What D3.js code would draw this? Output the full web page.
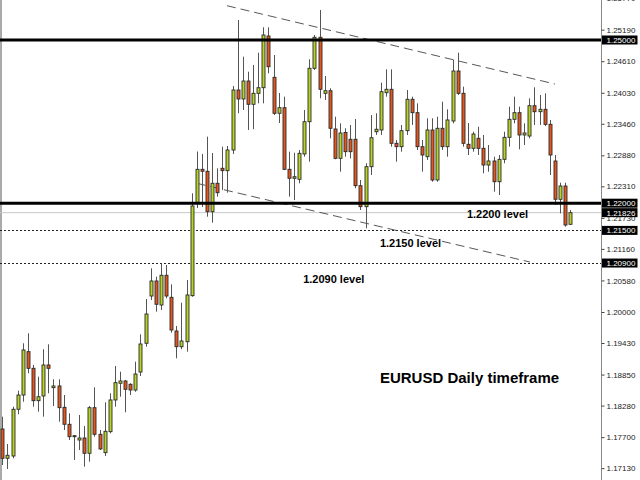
<!DOCTYPE html>
<html><head><meta charset="utf-8">
<script src="https://cdn.jsdelivr.net/npm/d3@7"></script>
<style>body{margin:0;background:#fff}svg{display:block}</style>
</head><body><svg id="c" width="640" height="480"></svg>
<script>
const opens=[1.17849,1.17311,1.17353,1.18212,1.18474,1.19271,1.18965,1.18370,1.18456,1.19026,
1.18609,1.18640,1.18248,1.17936,1.17708,1.17647,1.17684,1.17403,1.18241,1.17752,
1.17414,1.17800,1.18383,1.18690,1.18732,1.18671,1.18566,1.18897,1.19425,1.20294,
1.20570,1.20129,1.20675,1.20270,1.19651,1.19362,1.19454,1.20300,1.22013,1.22623,
1.22587,1.21844,1.22366,1.22642,1.22598,1.22978,1.24081,1.23916,1.24246,1.23818,
1.24020,1.24123,1.25074,1.24314,1.23653,1.23756,1.22623,1.22458,1.22439,1.22905,
1.23498,1.24480,1.25050,1.24020,1.24068,1.23364,1.22825,1.23300,1.23175,1.23175,
1.22322,1.21936,1.22671,1.23314,1.23346,1.24031,1.24094,1.23101,1.23039,1.23333,
1.23910,1.23664,1.23039,1.22855,1.23346,1.22427,1.23377,1.23039,1.23511,1.24430,
1.24020,1.23083,1.23009,1.23193,1.23009,1.22702,1.22776,1.22395,1.22807,1.23211,
1.23542,1.23664,1.23254,1.23235,1.23792,1.23682,1.23726,1.23450,1.22776,1.22072,
1.22316,1.21612];
const highs=[1.18076,1.17574,1.18259,1.18553,1.19425,1.19609,1.19026,1.18811,1.19315,1.19406,
1.18763,1.18763,1.18474,1.18138,1.17739,1.18107,1.17905,1.18272,1.18616,1.17831,
1.18340,1.18506,1.19008,1.18903,1.18750,1.18690,1.19087,1.19590,1.20239,1.20803,
1.20649,1.20895,1.20864,1.20509,1.19743,1.20171,1.20588,1.22182,1.22950,1.22905,
1.23223,1.22923,1.22642,1.23039,1.23052,1.24154,1.25368,1.24693,1.24417,1.24541,
1.24767,1.25234,1.25234,1.24724,1.24026,1.23958,1.22947,1.22928,1.22978,1.23713,
1.24645,1.25092,1.25552,1.24338,1.24112,1.23590,1.23469,1.23377,1.23438,1.23548,
1.22427,1.22734,1.23621,1.23653,1.24215,1.24461,1.24461,1.23162,1.23438,1.24081,
1.23958,1.23836,1.23162,1.23561,1.23561,1.23590,1.23866,1.23726,1.24632,1.24767,
1.24142,1.23474,1.23314,1.23406,1.23254,1.23070,1.22855,1.22886,1.23314,1.23774,
1.23958,1.23774,1.23469,1.23928,1.24131,1.23989,1.24020,1.23530,1.22886,1.22377,
1.22377,1.21875];
const lows=[1.17188,1.17114,1.17311,1.18120,1.18351,1.18873,1.18259,1.18167,1.18076,1.18506,
1.18272,1.17984,1.17831,1.17647,1.17280,1.17463,1.17156,1.17248,1.17708,1.17463,
1.17353,1.17770,1.18259,1.18443,1.18156,1.18474,1.18535,1.18824,1.19362,1.20221,
1.20006,1.20037,1.20252,1.19620,1.19149,1.19315,1.19271,1.20281,1.21912,1.21930,
1.21752,1.21642,1.22120,1.22243,1.22193,1.22905,1.23653,1.23713,1.23346,1.23359,
1.23836,1.23836,1.24388,1.23621,1.23474,1.22610,1.22120,1.22059,1.22366,1.22855,
1.22763,1.24449,1.23928,1.23897,1.23193,1.22807,1.22579,1.22855,1.22825,1.22274,
1.21875,1.21539,1.22518,1.23254,1.23254,1.23958,1.23039,1.22763,1.22947,1.23254,
1.23438,1.22978,1.22579,1.22794,1.22395,1.22395,1.22978,1.22855,1.23469,1.23989,
1.23039,1.22886,1.22947,1.22886,1.22550,1.22579,1.22212,1.22151,1.22734,1.23039,
1.23469,1.22991,1.23070,1.23193,1.23438,1.23438,1.23419,1.22518,1.21967,1.21814,
1.21568,1.21599];
const closes=[1.17311,1.17366,1.18212,1.18474,1.19302,1.18965,1.18370,1.18443,1.19026,1.18965,
1.18640,1.18241,1.17936,1.17708,1.17726,1.17684,1.17403,1.18241,1.17752,1.17482,
1.17807,1.18383,1.18701,1.18732,1.18579,1.18566,1.18860,1.19412,1.19963,1.20570,
1.20142,1.20675,1.20294,1.19669,1.19362,1.19467,1.20313,1.21949,1.22623,1.22587,
1.21844,1.22366,1.22193,1.22598,1.22978,1.24081,1.23916,1.24246,1.23818,1.24020,
1.24123,1.25092,1.24509,1.23653,1.23756,1.22623,1.22458,1.22487,1.22917,1.23498,
1.24480,1.25050,1.24094,1.24068,1.23377,1.22825,1.23290,1.22947,1.22947,1.22322,
1.21936,1.22671,1.23204,1.23359,1.24050,1.24094,1.23101,1.23039,1.23333,1.23910,
1.23664,1.23039,1.22886,1.23346,1.22427,1.23377,1.23039,1.23530,1.24430,1.24020,
1.23101,1.23009,1.23272,1.23009,1.22702,1.22776,1.22395,1.22807,1.23211,1.23542,
1.23664,1.23254,1.23291,1.23792,1.23682,1.23726,1.23450,1.22886,1.22072,1.22316,
1.21599,1.21826];
const yTicks=[1.17130,1.17700,1.18280,1.18850,1.19430,1.20000,1.20580,1.21160,1.21730,
1.22310,1.22880,1.23460,1.24030,1.24610,1.25190,1.25770];
const thickLevels=[1.25000,1.22000];
const dottedLevels=[1.21500,1.20900];
const bidPrice=1.21826;
const markedPrices=[1.25000,1.22000,1.21826,1.21500,1.20900];
const upperTrend=[[43.9,1.25630],[108.0,1.24191]];
const lowerTrend=[[38.0,1.22366],[103.1,1.20919]];
const levelNotes=["1.2200 level","1.2150 level","1.2090 level"];
const title="EURUSD Daily timeframe";

const svg=d3.select("#c");
const W=640,H=480,axisX=601.5;
const x=d3.scaleLinear().domain([-0.45,117.1]).range([0,axisX]);
const y=d3.scaleLinear().domain([1.20,1.25]).range([312,40]);
const font="'Liberation Sans', Arial, sans-serif";

svg.append("rect").attr("width",W).attr("height",H).attr("fill","#fff");
svg.append("line").attr("x1",1).attr("x2",1).attr("y1",0).attr("y2",H).attr("stroke","#555").attr("stroke-width",1);

svg.append("line").attr("x1",0).attr("x2",axisX).attr("y1",y(bidPrice)).attr("y2",y(bidPrice))
  .attr("stroke","#c8c8c8").attr("stroke-width",1);
svg.selectAll(".dl").data(dottedLevels).enter().append("line")
  .attr("x1",0).attr("x2",axisX).attr("y1",d=>Math.round(y(d))+0.5).attr("y2",d=>Math.round(y(d))+0.5)
  .attr("stroke","#222").attr("stroke-width",1).attr("stroke-dasharray","2,2");
[upperTrend,lowerTrend].forEach(t=>{
  svg.append("line").attr("x1",x(t[0][0])).attr("y1",y(t[0][1])).attr("x2",x(t[1][0])).attr("y2",y(t[1][1]))
   .attr("stroke","#444").attr("stroke-width",0.9).attr("stroke-dasharray","9,5");
});

const idx=d3.range(opens.length);
const g=svg.append("g");
g.selectAll(".wick").data(idx).enter().append("line")
  .attr("x1",i=>Math.round(x(i))+0.5).attr("x2",i=>Math.round(x(i))+0.5)
  .attr("y1",i=>y(highs[i])).attr("y2",i=>y(lows[i]))
  .attr("stroke","#555").attr("stroke-width",1);
g.selectAll(".body").data(idx).enter().append("rect")
  .attr("x",i=>Math.round(x(i))-1)
  .attr("width",3)
  .attr("y",i=>y(Math.max(opens[i],closes[i])))
  .attr("height",i=>Math.max(1,Math.abs(y(opens[i])-y(closes[i]))))
  .attr("fill",i=>closes[i]>=opens[i]?"#b8d324":"#e5561c")
  .attr("stroke","#2a2a2a").attr("stroke-width",0.9);

svg.selectAll(".tl").data(thickLevels).enter().append("line")
  .attr("x1",0).attr("x2",axisX).attr("y1",d=>y(d)).attr("y2",d=>y(d))
  .attr("stroke","#000").attr("stroke-width",3);

const ax=svg.append("g").attr("transform",`translate(${axisX},0)`)
  .call(d3.axisRight(y).tickValues(yTicks).tickSize(3).tickPadding(2).tickFormat(d3.format(".5f")));
ax.select(".domain").attr("stroke","#888").attr("d",`M0,0V${H}`);
ax.selectAll(".tick line").attr("stroke","#444");
ax.selectAll(".tick text").attr("font-family",font).attr("font-size",8).attr("fill","#222");

const ml=svg.selectAll(".ml").data(markedPrices).enter().append("g")
  .attr("transform",d=>`translate(${axisX+0.5},${y(d)})`);
ml.append("rect").attr("x",0).attr("y",-4.5).attr("width",35.5).attr("height",9).attr("fill","#000");
ml.append("text").attr("x",4.5).attr("y",3).attr("font-family",font).attr("font-size",8)
  .attr("fill","#fff").text(d=>d3.format(".5f")(d));

const notePos=[[90.8,1.21737],[73.8,1.21195],[58.8,1.20533]];
levelNotes.forEach((t,k)=>{
  svg.append("text").attr("x",x(notePos[k][0])).attr("y",y(notePos[k][1]))
    .attr("font-family",font).attr("font-weight","bold").attr("font-size",11).attr("fill","#000").text(t);
});
svg.append("text").attr("x",x(73.8)).attr("y",y(1.18686))
  .attr("font-family",font).attr("font-weight","bold").attr("font-size",15).attr("fill","#000").text(title);
</script></body></html>
